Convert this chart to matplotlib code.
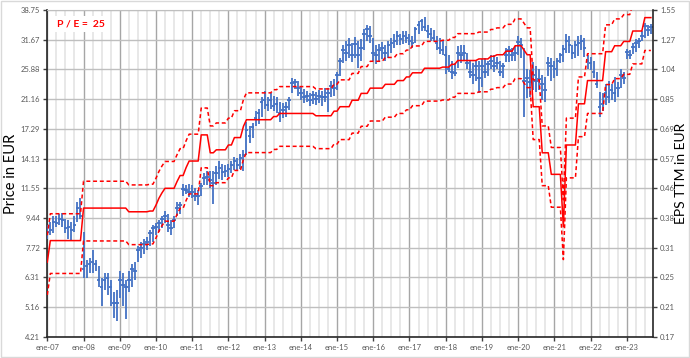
import numpy as np
import matplotlib.pyplot as plt
from matplotlib.patches import Rectangle
from matplotlib.ticker import FixedLocator, MultipleLocator, NullLocator, NullFormatter

plt.rcParams['font.family'] = ['Lato', 'DejaVu Sans']

# monthly bars, Jan 2007 .. Sep 2023 (EUR)
close = [8.6, 8.7, 9.2, 9.1, 9.4, 9.3, 8.8, 8.9, 8.7, 9.0, 10.1, 9.6,
         6.7, 6.8, 6.9, 7.0, 6.9, 6.2, 5.9, 6.2, 6.3, 5.9, 5.3, 5.3,
         6.2, 6.0, 5.9, 6.2, 6.7, 6.6, 7.6, 7.7, 7.9, 8.0, 8.5, 8.8,
         8.9, 9.1, 9.4, 9.6, 9.0, 8.8, 9.3, 10.1, 10.3, 11.5, 11.4, 11.3,
         11.3, 11.0, 11.0, 11.7, 12.4, 12.5, 12.2, 12.0, 12.8, 13.3, 12.9, 13.0,
         13.2, 13.5, 13.9, 13.5, 14.2, 14.5, 17.2, 16.5, 17.5, 18.6, 19.2, 20.8,
         21.0, 20.4, 21.0, 20.2, 20.5, 19.3, 19.6, 20.0, 21.0, 23.6, 23.8, 22.8,
         22.0, 21.5, 21.6, 21.0, 21.8, 21.2, 21.6, 21.5, 21.4, 22.0, 23.2, 22.8,
         25.0, 27.5, 29.5, 29.0, 30.5, 28.6, 30.8, 28.5, 30.0, 33.0, 34.0, 32.5,
         29.0, 28.5, 29.5, 30.0, 29.0, 30.5, 31.0, 31.5, 32.5, 31.8, 32.5, 32.0,
         31.5, 31.0, 34.0, 35.0, 36.0, 34.5, 33.5, 33.0, 32.0, 31.0, 30.0, 29.5,
         28.5, 26.0, 25.5, 25.2, 29.0, 28.5, 29.0, 27.0, 25.5, 25.0, 26.5, 24.5,
         26.5, 25.5, 26.8, 27.5, 26.5, 27.0, 25.5, 26.5, 28.5, 29.5, 28.5, 29.0,
         31.2, 30.5, 24.0, 24.5, 23.8, 25.0, 24.0, 24.2, 23.5, 22.5, 27.0, 26.5,
         26.0, 27.5, 28.5, 29.8, 31.5, 30.5, 29.0, 30.5, 31.0, 31.5, 30.0, 27.5,
         27.0, 25.5, 23.5, 20.0, 20.5, 22.0, 21.5, 22.5, 22.0, 22.8, 25.0, 24.5,
         29.2, 28.5, 30.2, 31.0, 31.5, 32.5, 34.7, 33.8, 34.5]

high = [9.0, 9.2, 9.6, 9.6, 9.7, 9.8, 9.4, 9.3, 9.2, 9.6, 10.5, 10.8,
        8.6, 7.1, 7.2, 7.6, 7.1, 6.8, 6.3, 6.5, 6.5, 6.2, 5.7, 5.8,
        6.6, 6.5, 6.2, 6.6, 6.9, 7.0, 7.8, 8.0, 8.2, 8.3, 8.7, 9.0,
        9.1, 9.3, 9.6, 9.9, 9.7, 9.3, 9.6, 10.5, 10.5, 11.9, 11.8, 11.9,
        11.8, 11.6, 11.4, 12.0, 12.8, 13.0, 13.0, 13.0, 13.4, 13.9, 13.6, 13.5,
        13.6, 13.9, 14.3, 14.2, 14.6, 15.0, 18.1, 17.6, 18.0, 19.5, 19.8, 21.5,
        22.3, 21.5, 22.0, 21.6, 21.4, 20.8, 20.6, 20.8, 21.5, 24.5, 24.2, 24.0,
        23.0, 22.6, 22.4, 22.0, 22.4, 22.2, 22.5, 22.4, 22.8, 22.8, 24.0, 24.2,
        25.5, 28.0, 30.5, 31.5, 32.0, 31.0, 32.2, 31.5, 31.8, 34.0, 35.0, 34.8,
        32.0, 30.5, 30.8, 31.2, 30.5, 31.5, 32.0, 33.0, 33.5, 33.0, 33.5, 33.5,
        33.0, 32.5, 34.5, 36.0, 36.5, 37.0, 35.0, 34.4, 33.8, 32.5, 32.0, 31.5,
        30.3, 28.5, 27.5, 27.0, 30.3, 30.5, 30.5, 29.0, 27.5, 27.0, 27.5, 27.5,
        27.8, 28.0, 27.5, 28.6, 28.5, 28.2, 27.5, 27.0, 30.0, 30.3, 30.0, 30.3,
        32.5, 32.0, 30.0, 26.0, 25.8, 27.3, 26.5, 26.0, 25.0, 24.6, 28.2, 28.0,
        27.5, 28.0, 29.0, 30.5, 33.0, 32.5, 30.6, 31.5, 32.5, 32.8, 32.0, 28.5,
        28.2, 27.5, 25.5, 22.2, 22.0, 23.5, 23.9, 23.5, 24.6, 23.8, 25.9, 25.5,
        29.8, 29.5, 31.0, 31.9, 32.0, 33.5, 35.5, 35.0, 35.2]

low = [8.2, 8.4, 8.5, 8.9, 9.0, 8.9, 8.5, 8.2, 8.1, 8.6, 9.2, 9.4,
       6.3, 6.3, 6.5, 6.5, 6.6, 5.9, 5.2, 5.8, 5.6, 5.2, 4.8, 4.7,
       5.5, 5.2, 4.75, 5.7, 5.9, 6.2, 7.0, 7.2, 7.4, 7.6, 7.8, 8.0,
       8.4, 8.6, 8.8, 9.1, 8.6, 8.4, 8.8, 9.6, 9.7, 11.0, 11.1, 10.9,
       10.8, 10.6, 10.3, 11.0, 11.8, 11.8, 11.6, 10.4, 11.8, 12.3, 12.2, 12.5,
       12.5, 12.8, 13.1, 13.0, 13.2, 13.0, 14.5, 15.7, 16.2, 17.6, 17.9, 18.8,
       19.8, 19.5, 19.8, 19.5, 19.3, 18.1, 18.6, 18.8, 19.6, 22.0, 22.6, 21.6,
       21.0, 20.6, 20.8, 20.2, 20.5, 20.4, 20.6, 20.2, 20.8, 19.4, 21.5, 21.6,
       22.5, 24.8, 27.0, 27.5, 28.0, 27.3, 28.0, 26.1, 27.5, 29.5, 31.3, 31.0,
       27.5, 26.9, 27.5, 27.8, 27.5, 28.0, 29.0, 30.0, 30.5, 30.6, 30.8, 31.0,
       30.5, 30.0, 31.0, 33.0, 33.5, 33.5, 32.0, 31.5, 31.3, 29.5, 28.7, 28.5,
       25.1, 25.5, 24.3, 24.7, 26.1, 27.0, 27.5, 26.0, 24.5, 23.5, 24.0, 22.0,
       23.0, 24.5, 24.7, 26.0, 25.5, 26.0, 24.8, 24.5, 27.3, 27.3, 27.5, 27.5,
       28.6, 28.0, 18.8, 21.3, 21.5, 22.5, 22.2, 22.5, 21.0, 20.8, 24.7, 24.0,
       24.5, 24.8, 27.0, 27.3, 29.0, 29.0, 27.8, 28.0, 28.4, 29.5, 28.2, 26.0,
       25.8, 24.5, 22.8, 18.8, 19.5, 20.4, 20.6, 21.0, 20.8, 21.5, 22.8, 23.5,
       27.8, 27.8, 28.8, 29.2, 30.0, 31.5, 32.0, 32.5, 33.0]

# EPS TTM x 25, in price terms (EUR)
pe_line = [7.0, 8.1, 8.1, 8.1, 8.1, 8.1, 8.1, 8.1, 8.1, 8.1, 8.1, 8.1,
           10.1, 10.1, 10.1, 10.1, 10.1, 10.1, 10.1, 10.1, 10.1, 10.1, 10.1, 10.1,
           10.1, 10.1, 10.1, 9.85, 9.85, 9.85, 9.85, 9.85, 9.85, 9.85, 9.9, 9.9,
           10.3, 10.8, 11.2, 11.55, 11.55, 11.55, 11.55, 12.1, 12.6, 12.6, 13.3, 13.9,
           13.9, 13.9, 13.9, 16.6, 16.6, 16.6, 14.7, 14.7, 15.0, 15.0, 15.0, 15.0,
           15.5, 15.5, 16.3, 16.3, 16.3, 17.6, 18.4, 18.4, 18.4, 18.4, 18.4, 18.4,
           18.4, 18.4, 18.4, 18.8, 18.8, 19.2, 19.2, 19.2, 19.2, 19.2, 19.2, 19.2,
           19.2, 19.2, 19.2, 19.2, 19.2, 18.9, 18.9, 18.9, 18.9, 18.9, 18.9, 19.5,
           19.5, 20.1, 20.1, 20.1, 20.1, 21.0, 21.0, 21.0, 22.0, 22.0, 22.0, 22.8,
           22.8, 22.8, 22.8, 22.8, 23.4, 23.4, 23.4, 23.4, 24.0, 24.0, 24.0, 24.6,
           24.6, 25.3, 25.3, 25.3, 25.3, 26.1, 26.1, 26.1, 26.1, 26.1, 26.1, 26.3,
           26.3, 26.3, 26.8, 26.8, 27.5, 27.5, 27.5, 27.5, 27.5, 27.5, 27.5, 27.8,
           27.8, 27.8, 27.8, 28.3, 28.3, 28.6, 28.6, 28.6, 29.3, 29.3, 29.3, 30.4,
           30.4, 30.4, 29.5, 28.6, 28.6, 20.1, 20.1, 20.1, 14.7, 14.7, 14.7, 12.7,
           12.7, 12.7, 12.7, 8.9, 15.5, 15.5, 15.5, 15.5, 20.5, 20.5, 20.5, 24.0,
           24.0, 24.0, 24.0, 24.0, 24.0, 29.2, 29.2, 29.2, 30.4, 30.4, 30.4, 31.3,
           31.3, 31.3, 33.6, 33.6, 33.6, 33.6, 36.8, 36.8, 36.8]

PE = 25
BAND = 0.20

price_ticks = [4.21, 5.16, 6.31, 7.72, 9.44, 11.55, 14.13, 17.29, 21.16, 25.88, 31.67, 38.75]
eps_ticks = ['0.17', '0.21', '0.25', '0.31', '0.38', '0.46', '0.57', '0.69', '0.85', '1.04', '1.27', '1.55']
year_labels = ['ene-07', 'ene-08', 'ene-09', 'ene-10', 'ene-11', 'ene-12', 'ene-13', 'ene-14', 'ene-15',
               'ene-16', 'ene-17', 'ene-18', 'ene-19', 'ene-20', 'ene-21', 'ene-22', 'ene-23']

TICK_COLOR = '#595959'
BLUE = '#4472C4'

fig = plt.figure(figsize=(6.9, 3.58), dpi=100)
ax = fig.add_axes([47 / 690, 21 / 358, 606 / 690, 327 / 358])

x = np.arange(len(close))
fair = np.array(pe_line)

ax.vlines(x, low, high, color=BLUE, lw=1.3, zorder=3)
ax.hlines(close, x - 0.6, x + 0.6, color=BLUE, lw=1.3, zorder=3)

ax.plot(x, fair, color='#FF0000', lw=1.1, zorder=4)
ax.plot(x, fair * (1 + BAND), color='#FF0000', lw=1.1, ls=(0, (2.6, 1.8)), zorder=4)
ax.plot(x, fair * (1 - BAND), color='#FF0000', lw=1.1, ls=(0, (2.6, 1.8)), zorder=4)

ax.set_yscale('log')
ax.set_ylim(price_ticks[0], price_ticks[-1])
ax.set_xlim(-0.1, 200.7)

ax.yaxis.set_major_locator(FixedLocator(price_ticks))
ax.yaxis.set_minor_locator(NullLocator())
ax.yaxis.set_minor_formatter(NullFormatter())
ax.set_yticklabels([f'{v:.2f}' for v in price_ticks])

ax.set_xticks(np.arange(0, 12 * len(year_labels), 12))
ax.set_xticklabels(year_labels)
ax.xaxis.set_minor_locator(MultipleLocator(3))

ax.set_axisbelow(True)
ax.grid(axis='y', which='major', color='#BFBFBF', lw=1)
ax.grid(axis='x', which='major', color='#A6A6A6', lw=1)
ax.grid(axis='x', which='minor', color='#E4E4E4', lw=1.2)

ax.tick_params(axis='both', which='major', labelsize=5.5, labelcolor=TICK_COLOR,
               length=3, width=1, color='#404040', pad=2)
ax.tick_params(axis='x', which='minor', length=0)

for side in ['left', 'bottom']:
    ax.spines[side].set_color('#262626')
    ax.spines[side].set_linewidth(1.2)
ax.spines['top'].set_color('#BFBFBF')
ax.spines['right'].set_visible(False)

ax.set_ylabel('Price in EUR', fontsize=10.5, color='black')
ax.yaxis.set_label_coords(-0.048, 0.5)

ax.text(0.017, 0.957, 'P / E =  25', transform=ax.transAxes, color='#FF0000',
        fontsize=7.5, fontweight='bold', va='center', ha='left', zorder=6,
        bbox=dict(facecolor='white', edgecolor='none', pad=2.5))

ax2 = ax.twinx()
ax2.set_yscale('log')
ax2.set_ylim(price_ticks[0] / PE, price_ticks[-1] / PE)
ax2.yaxis.set_major_locator(FixedLocator([v / PE for v in price_ticks]))
ax2.yaxis.set_minor_locator(NullLocator())
ax2.yaxis.set_minor_formatter(NullFormatter())
ax2.set_yticklabels(eps_ticks)
ax2.tick_params(axis='y', labelsize=5.5, labelcolor=TICK_COLOR, length=3, width=1,
                color='#404040', pad=2)
for side in ['left', 'top', 'bottom']:
    ax2.spines[side].set_visible(False)
ax2.spines['right'].set_color('#262626')
ax2.spines['right'].set_linewidth(1.2)
ax2.set_ylabel('EPS TTM in EUR', fontsize=10, color='black')
ax2.yaxis.set_label_coords(1.036, 0.5)

fig.patches.append(Rectangle((0.001, 0.002), 0.997, 0.995, transform=fig.transFigure,
                             fill=False, edgecolor='#D9D9D9', lw=1))

fig.savefig('out.png', dpi=100)
